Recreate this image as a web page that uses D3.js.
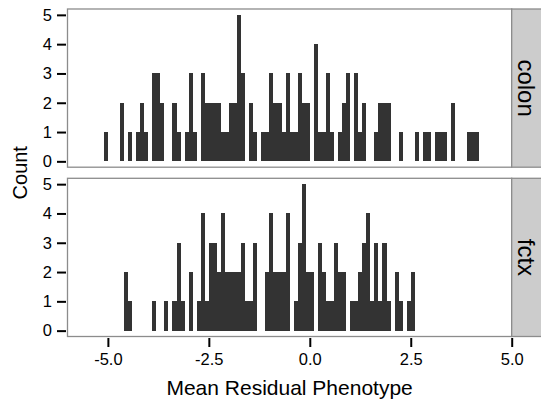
<!DOCTYPE html>
<html>
<head>
<meta charset="utf-8">
<script src="https://cdn.jsdelivr.net/npm/d3@7"></script>
<style>
  body { margin: 0; background: #fff; }
  svg { display: block; font-family: "Liberation Sans", Arial, Helvetica, sans-serif; }
</style>
</head>
<body>
<script>
// histogram bins: width 0.1, first bin starts at -5.1
const binStart = -5.1;
const binWidth = 0.1;
const panels = ["colon", "fctx"];
const colonCounts = [
  1, 0, 0, 0, 2, 0, 1, 0, 1, 2, 1, 0, 3, 3, 2, 0, 0, 2, 1, 0,
  1, 3, 1, 0, 3, 2, 2, 2, 2, 1, 1, 2, 2, 5, 3, 0, 2, 1, 0, 1,
  1, 3, 2, 2, 1, 3, 1, 1, 3, 2, 2, 0, 4, 1, 1, 3, 1, 0, 1, 2,
  3, 0, 3, 1, 2, 0, 0, 1, 2, 2, 2, 0, 0, 1, 0, 0, 0, 1, 0, 1,
  1, 0, 1, 1, 1, 0, 2, 0, 0, 0, 1, 1, 1
];
const fctxCounts = [
  0, 0, 0, 0, 0, 2, 1, 0, 0, 0, 0, 0, 1, 0, 0, 1, 0, 1, 3, 1,
  0, 2, 0, 1, 4, 1, 3, 3, 2, 4, 2, 2, 2, 2, 3, 1, 1, 3, 0, 0,
  2, 4, 2, 2, 2, 4, 0, 1, 3, 5, 2, 2, 0, 3, 2, 1, 1, 3, 2, 2,
  0, 1, 1, 2, 3, 4, 1, 3, 1, 3, 1, 0, 2, 1, 0, 1, 2
];
const xTicks = [-5, -2.5, 0, 2.5, 5];
const xTickLabels = ["-5.0", "-2.5", "0.0", "2.5", "5.0"];
const yTicks = [0, 1, 2, 3, 4, 5];
const xLabel = "Mean Residual Phenotype";
const yLabel = "Count";

const width = 541, height = 405;
const left = 67.5, right = 511.7;
const panelTops = [9, 178.3];
const panelH = 158.2;
const stripW = 30;

const svg = d3.select("body").append("svg")
  .attr("width", width).attr("height", height);

const x = d3.scaleLinear().domain([-6, 5]).range([left, right]);

const toBins = (counts) => counts.map((c, i) => ({
  x0: binStart + i * binWidth,
  x1: binStart + (i + 1) * binWidth,
  count: c
})).filter(d => d.count > 0);

const series = [colonCounts, fctxCounts];

panels.forEach((name, p) => {
  const top = panelTops[p];
  const y = d3.scaleLinear().domain([-0.2, 5.2]).range([top + panelH, top]);
  const g = svg.append("g");

  g.append("g")
    .selectAll("rect")
    .data(toBins(series[p]))
    .join("rect")
    .attr("x", d => x(d.x0))
    .attr("width", d => x(d.x1) - x(d.x0))
    .attr("y", d => y(d.count))
    .attr("height", d => y(0) - y(d.count))
    .attr("fill", "#333333")
    .attr("shape-rendering", "crispEdges");

  g.append("rect")
    .attr("x", left).attr("y", top)
    .attr("width", right - left).attr("height", panelH)
    .attr("fill", "none")
    .attr("stroke", "#8c8c8c")
    .attr("stroke-width", 1.3);

  // y axis
  const yAxis = g.append("g")
    .attr("transform", `translate(${left - 1.5},0)`)
    .call(d3.axisLeft(y).tickValues(yTicks).tickSize(9).tickPadding(5).tickFormat(d3.format("d")));
  yAxis.select(".domain").remove();
  yAxis.selectAll(".tick line").attr("stroke", "#000").attr("stroke-width", 2);
  yAxis.selectAll(".tick text")
    .attr("font-size", 16.5)
    .attr("font-family", "Liberation Sans, Arial, sans-serif")
    .attr("fill", "#000");

  // strip
  g.append("rect")
    .attr("x", right).attr("y", top)
    .attr("width", stripW).attr("height", panelH)
    .attr("fill", "#cccccc")
    .attr("stroke", "#8c8c8c")
    .attr("stroke-width", 1.3);
  g.append("text")
    .attr("transform", `translate(${right + 15},${top + panelH / 2}) rotate(90)`)
    .attr("text-anchor", "middle")
    .attr("dominant-baseline", "central")
    .attr("font-size", 24)
    .attr("fill", "#000")
    .text(name);
});

// x axis
const bottom = panelTops[1] + panelH;
const xAxis = svg.append("g")
  .attr("transform", `translate(0,${bottom + 1.5})`)
  .call(d3.axisBottom(x).tickValues(xTicks).tickSize(9).tickPadding(6)
    .tickFormat((d, i) => xTickLabels[i]));
xAxis.select(".domain").remove();
xAxis.selectAll(".tick line").attr("stroke", "#000").attr("stroke-width", 2);
xAxis.selectAll(".tick text")
  .attr("font-size", 16.5)
  .attr("font-family", "Liberation Sans, Arial, sans-serif")
  .attr("fill", "#000");

svg.append("text")
  .attr("x", (left + right) / 2)
  .attr("y", 395)
  .attr("text-anchor", "middle")
  .attr("font-size", 21)
  .text(xLabel);

svg.append("text")
  .attr("transform", `translate(27,${(panelTops[0] + bottom) / 2}) rotate(-90)`)
  .attr("text-anchor", "middle")
  .attr("font-size", 20)
  .text(yLabel);
</script>
</body>
</html>
